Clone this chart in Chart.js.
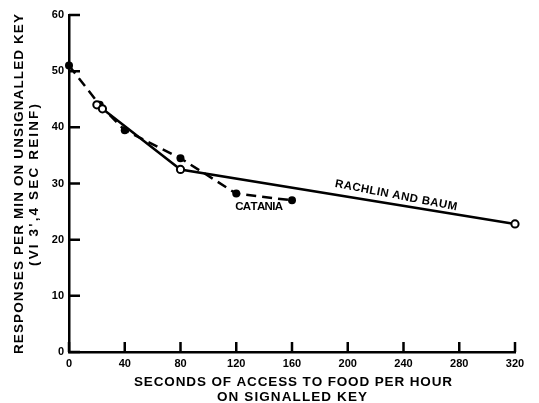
<!DOCTYPE html>
<html><head><meta charset="utf-8">
<script src="https://cdn.jsdelivr.net/npm/chart.js@4.4.1/dist/chart.umd.min.js"></script>
<style>html,body{margin:0;padding:0;background:#fff;}canvas{display:block;}</style>
</head><body>
<canvas id="c" width="539" height="403"></canvas>
<script>
// ---- data ----
const xTicks = [0, 40, 80, 120, 160, 200, 240, 280, 320];
const yTicks = [0, 10, 20, 30, 40, 50, 60];
const rachlinX = [20, 24, 80, 320];
const rachlinY = [44, 43.3, 32.5, 22.8];
const cataniaX = [0, 22, 40, 80, 120, 160];
const cataniaY = [51, 44, 39.5, 34.5, 28.2, 27];
const rachlinLabel = 'RACHLIN AND BAUM';
const cataniaLabel = 'CATANIA';
const xTitle = ['SECONDS OF ACCESS TO FOOD PER HOUR', 'ON SIGNALLED KEY'];
const yTitle = ['RESPONSES PER MIN ON UNSIGNALLED KEY', "(VI 3',4 SEC REINF)"];

const FONT = "'Liberation Sans', Arial, sans-serif";

function spacedText(ctx, text, cx, cy, targetW) {
  const chars = [...text];
  const widths = chars.map(c => ctx.measureText(c).width);
  const raw = widths.reduce((a, b) => a + b, 0);
  const sp = chars.length > 1 ? (targetW - raw) / (chars.length - 1) : 0;
  let x = cx - targetW / 2;
  ctx.textAlign = 'left';
  ctx.textBaseline = 'middle';
  chars.forEach((c, i) => { ctx.fillText(c, x, cy); x += widths[i] + sp; });
}

const decor = {
  id: 'decor',
  afterDraw(chart) {
    const { ctx, chartArea: a, scales: { x, y } } = chart;
    ctx.save();
    // inward ticks
    ctx.strokeStyle = '#000';
    ctx.lineWidth = 2.5;
    ctx.beginPath();
    xTicks.forEach(v => { const px = x.getPixelForValue(v); ctx.moveTo(px, a.bottom); ctx.lineTo(px, a.bottom - 10); });
    yTicks.forEach(v => { const py = y.getPixelForValue(v); ctx.moveTo(a.left, py); ctx.lineTo(a.left + 11, py); });
    ctx.stroke();
    ctx.fillStyle = '#000';
    // x title
    ctx.font = `bold 13.5px ${FONT}`;
    spacedText(ctx, xTitle[0], 293, 382, 318);
    spacedText(ctx, xTitle[1], 292, 397, 150);
    // y title
    ctx.save();
    ctx.translate(19, 184);
    ctx.rotate(-Math.PI / 2);
    spacedText(ctx, yTitle[0], 0, 0, 340);
    ctx.restore();
    ctx.save();
    ctx.translate(34, 185);
    ctx.rotate(-Math.PI / 2);
    spacedText(ctx, yTitle[1], 0, 0, 162);
    ctx.restore();
    // series labels
    ctx.font = `bold 11.5px ${FONT}`;
    // Rachlin label along last segment
    const n = rachlinX.length;
    const x1 = x.getPixelForValue(rachlinX[n - 2]), y1 = y.getPixelForValue(rachlinY[n - 2]);
    const x2 = x.getPixelForValue(rachlinX[n - 1]), y2 = y.getPixelForValue(rachlinY[n - 1]);
    const ang = Math.atan2(y2 - y1, x2 - x1);
    const t = 0.64;
    const mx = x1 + (x2 - x1) * t, my = y1 + (y2 - y1) * t;
    ctx.save();
    ctx.translate(mx + Math.sin(ang) * 9, my - Math.cos(ang) * 9);
    ctx.rotate(ang + 0.03);
    spacedText(ctx, rachlinLabel, 0, 0, 124);
    ctx.restore();
    // Catania label below the last segment
    const cx = (x.getPixelForValue(cataniaX[cataniaX.length - 2]) + x.getPixelForValue(cataniaX[cataniaX.length - 1])) / 2;
    const cy = y.getPixelForValue(cataniaY[cataniaY.length - 2]);
    spacedText(ctx, cataniaLabel, cx - 5, cy + 13, 48);
    ctx.restore();
  }
};

const toPts = (xs, ys) => xs.map((v, i) => ({ x: v, y: ys[i] }));

new Chart(document.getElementById('c'), {
  type: 'line',
  data: {
    datasets: [
      {
        label: 'Rachlin and Baum',
        data: toPts(rachlinX, rachlinY),
        borderColor: '#000', borderWidth: 2.5,
        pointRadius: 3.6, pointBorderWidth: 2,
        pointBackgroundColor: '#fff', pointBorderColor: '#000',
        tension: 0, clip: false
      },
      {
        label: 'Catania',
        data: toPts(cataniaX, cataniaY),
        borderColor: '#000', borderWidth: 2.5, borderDash: [10, 6],
        pointRadius: 4, pointBorderWidth: 0,
        pointBackgroundColor: '#000', pointBorderColor: '#000',
        tension: 0, clip: false
      }
    ]
  },
  options: {
    responsive: false,
    animation: false,
    layout: { padding: { left: 0, top: 15, right: 24, bottom: 0 } },
    plugins: { legend: { display: false }, tooltip: { enabled: false } },
    scales: {
      x: {
        type: 'linear', min: 0, max: 320,
        afterBuildTicks: s => { s.ticks = xTicks.map(v => ({ value: v })); },
        afterFit: s => { s.height = 51; },
        grid: { display: true, drawOnChartArea: false, drawTicks: false },
        border: { display: true, color: '#000', width: 2.5 },
        ticks: { color: '#000', padding: 5, maxRotation: 0, autoSkip: false, font: { family: FONT, weight: 'bold', size: 11 } }
      },
      y: {
        type: 'linear', min: 0, max: 60,
        afterBuildTicks: s => { s.ticks = yTicks.map(v => ({ value: v })); },
        afterFit: s => { s.width = 69; },
        grid: { display: true, drawOnChartArea: false, drawTicks: false },
        border: { display: true, color: '#000', width: 2.5 },
        ticks: { color: '#000', padding: 5, autoSkip: false, font: { family: FONT, weight: 'bold', size: 11 } }
      }
    }
  },
  plugins: [decor]
});
</script>
</body></html>
